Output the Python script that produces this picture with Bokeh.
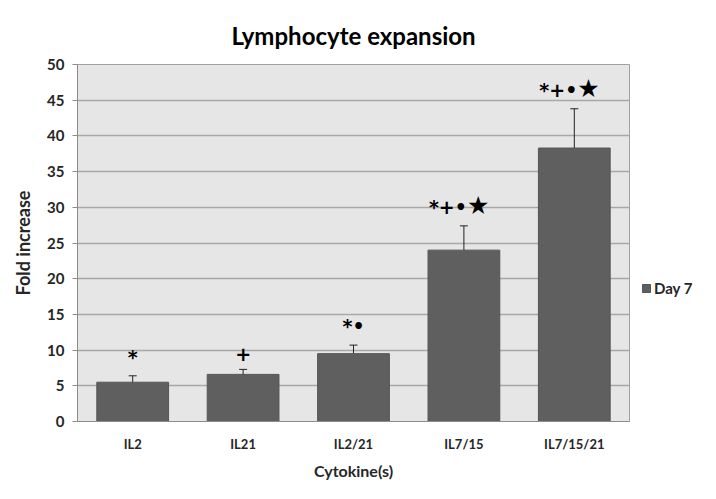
from bokeh.plotting import figure
from bokeh.models import (ColumnDataSource, Whisker, TeeHead, Legend, LegendItem,
                          Range1d, FactorRange, CDSView, IndexFilter)
from bokeh.core.properties import value
from bokeh.embed import file_html
from bokeh.resources import INLINE

categories = ["IL2", "IL21", "IL2/21", "IL7/15", "IL7/15/21"]
day7 = [5.5, 6.6, 9.5, 24.0, 38.3]
err = [0.9, 0.7, 1.2, 3.4, 5.5]
marks = ["*", "+", "*\u2022", "*+\u2022", "*+\u2022"]
stars = ["", "", "", "\u2605", "\u2605"]
y_ticks = [0, 5, 10, 15, 20, 25, 30, 35, 40, 45, 50]

FONT = "Lato"

src = ColumnDataSource(dict(
    x=categories,
    top=day7,
    upper=[v + e for v, e in zip(day7, err)],
    lower=[v - e for v, e in zip(day7, err)],
    marks=marks,
    stars=stars,
))

p = figure(frame_width=552, frame_height=357, x_range=FactorRange(*categories, range_padding=0),
           y_range=Range1d(0, 50), output_backend="svg", toolbar_location=None,
           title="Lymphocyte expansion")
p.min_border_left = 77
p.min_border_right = 71
p.min_border_top = 64
p.min_border_bottom = 62
p.background_fill_color = "#e6e6e6"
p.border_fill_color = "white"
p.outline_line_color = "#a0a0a0"
p.styles = {"outline": "2px solid #c4c4c4", "outline-offset": "-5px"}

p.title.align = "center"
p.title.text_font = FONT
p.title.text_font_size = "24px"
p.title.text_font_style = "bold"
p.title.text_color = "black"
p.title.standoff = 30

bars = p.vbar(x="x", top="top", width=0.65, source=src, fill_color="#5f5f5f",
              line_color="#555555")

w = Whisker(source=src, base="x", upper="upper", lower="lower",
            line_color="#222222", line_width=1,
            upper_head=TeeHead(size=8, line_color="#222222", line_width=1),
            lower_head=TeeHead(size=8, line_color="#222222", line_width=1))
p.add_layout(w)

ann_font = value("DejaVu Sans")
p.text(x="x", y="upper", text="marks", source=src, view=CDSView(filter=IndexFilter([0, 1, 2])),
       text_align="center", text_baseline="bottom", y_offset=-8,
       text_font=ann_font, text_font_size="19px", text_font_style="bold", text_color="black")
p.text(x="x", y="upper", text="marks", source=src, view=CDSView(filter=IndexFilter([3, 4])),
       text_align="right", text_baseline="bottom", x_offset=3, y_offset=-8,
       text_font=ann_font, text_font_size="19px", text_font_style="bold", text_color="black")
p.text(x="x", y="upper", text="stars", source=src, view=CDSView(filter=IndexFilter([3, 4])),
       text_align="left", text_baseline="bottom", x_offset=3, y_offset=-6,
       text_font=value("DejaVu Sans"), text_font_size="25px", text_color="black")

p.xgrid.grid_line_color = None
p.ygrid.grid_line_color = "#a8a8a8"
p.ygrid.grid_line_width = 1.3

yax = p.yaxis[0]
yax.ticker = y_ticks
yax.axis_line_color = "#8c8c8c"
yax.major_tick_line_color = "#8c8c8c"
yax.major_tick_out = 5
yax.major_tick_in = 0
yax.minor_tick_line_color = None
yax.major_label_text_font = FONT
yax.major_label_text_font_size = "15px"
yax.major_label_text_font_style = "bold"
yax.major_label_text_color = "#262626"
yax.major_label_standoff = 8
yax.axis_label = "Fold increase"
yax.axis_label_text_font = FONT
yax.axis_label_text_font_style = "bold"
yax.axis_label_text_color = "#262626"
yax.axis_label_text_font_size = "18px"
yax.axis_label_standoff = 10

xax = p.xaxis[0]
xax.axis_line_color = "#8c8c8c"
xax.major_tick_line_color = None
xax.major_tick_out = 0
xax.major_tick_in = 0
xax.major_label_text_font = FONT
xax.major_label_text_font_size = "13px"
xax.major_label_text_font_style = "bold"
xax.major_label_text_color = "#262626"
xax.major_label_standoff = 14
xax.axis_label = "Cytokine(s)"
xax.axis_label_standoff = 6
xax.axis_label_text_font = FONT
xax.axis_label_text_font_style = "bold"
xax.axis_label_text_color = "#262626"
xax.axis_label_text_font_size = "16px"

legend = Legend(items=[LegendItem(label="Day 7", renderers=[bars])],
                location=(12, 124), margin=0, padding=0,
                glyph_width=10, glyph_height=10, label_standoff=3,
                label_text_font=FONT, label_text_font_size="15px",
                label_text_font_style="bold", label_text_color="#262626",
                background_fill_alpha=0, border_line_color=None)
p.add_layout(legend, "right")

open("out.html", "w").write(file_html(p, INLINE))
